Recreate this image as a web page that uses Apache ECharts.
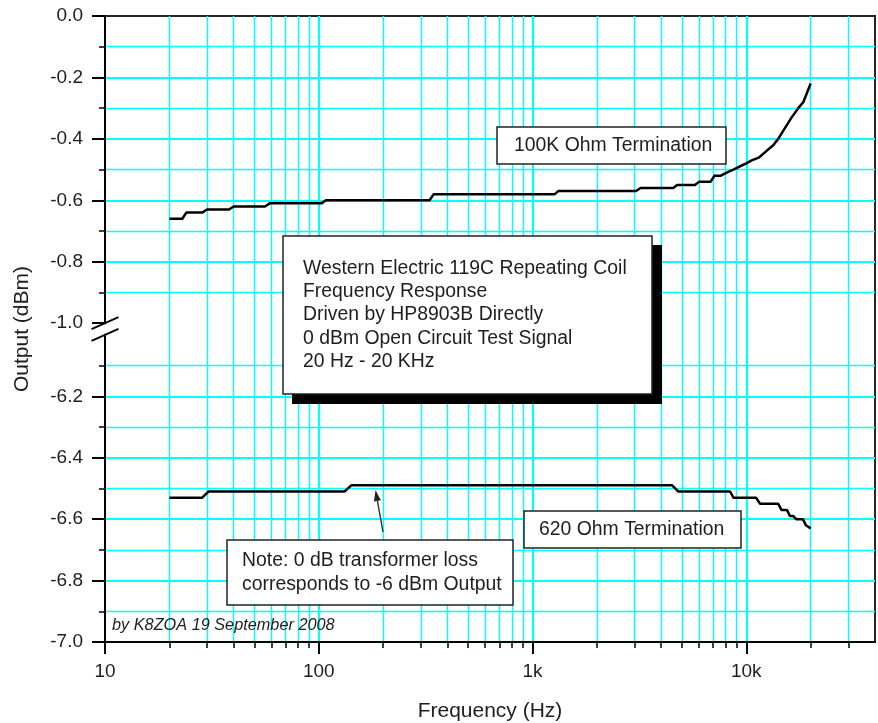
<!DOCTYPE html>
<html>
<head>
<meta charset="utf-8">
<script src="https://cdn.jsdelivr.net/npm/echarts@6/dist/echarts.min.js"></script>
<style>
  html, body { margin: 0; padding: 0; background: #fff; }
  #chart { width: 878px; height: 723px; }
</style>
</head>
<body>
<div id="chart"></div>
<script>
// Western Electric 119C repeating coil, measured output vs frequency
const freq100k = [20, 23, 24, 28.5, 30, 38, 40, 56, 59, 103, 108, 330, 345, 1270, 1320, 3050, 3200, 4550, 4750,
  5750, 6000, 6800, 7100, 7600, 8100, 8700, 9300, 10000, 10600, 11500, 12400, 13400, 14100, 15000, 16300, 17500, 18500, 20000];
const out100k = [-0.66, -0.66, -0.64, -0.64, -0.63, -0.63, -0.62, -0.62, -0.61, -0.61, -0.60, -0.60, -0.58, -0.58, -0.57, -0.57, -0.56, -0.56, -0.55,
  -0.55, -0.54, -0.54, -0.52, -0.52, -0.51, -0.50, -0.49, -0.48, -0.47, -0.46, -0.44, -0.42, -0.40, -0.37, -0.33, -0.30, -0.28, -0.22];

const freq620 = [20, 28.5, 30.5, 132, 142, 4500, 4800, 8400, 8700, 11100, 11600, 14100, 14600, 15500, 16000, 16600, 17100, 18400, 19000, 20000];
const out620 = [-6.53, -6.53, -6.51, -6.51, -6.49, -6.49, -6.51, -6.51, -6.53, -6.53, -6.55, -6.55, -6.57, -6.57, -6.59, -6.59, -6.60, -6.60, -6.62, -6.63];

// axis ticks
const xMajorTicks = [10, 100, 1000, 10000];
const xMajorLabels = ['10', '100', '1k', '10k'];
const xMinorTicks = [20, 30, 40, 50, 60, 70, 80, 90, 200, 300, 400, 500, 600, 700, 800, 900,
  2000, 3000, 4000, 5000, 6000, 7000, 8000, 9000, 20000, 30000];
const yMajorTicks = [0, -0.2, -0.4, -0.6, -0.8, -1.0, -6.2, -6.4, -6.6, -6.8, -7.0];
const yTickLabels = ['0.0', '-0.2', '-0.4', '-0.6', '-0.8', '-1.0', '-6.2', '-6.4', '-6.6', '-6.8', '-7.0'];
const yMinorTicks = [-0.1, -0.3, -0.5, -0.7, -0.9, -6.1, -6.3, -6.5, -6.7, -6.9];

// Broken value axis: upper band 0 … -1.0, lower band -6.0 … -7.0, small gap between them
const BREAK_TOP = -1.0, BREAK_BOTTOM = -6.0, BREAK_GAP = 0.038;
function toAxis(v) { return v >= BREAK_TOP ? v : v - BREAK_BOTTOM + BREAK_TOP - BREAK_GAP; }

const FONT = '"Liberation Sans", Arial, sans-serif';
const GRID_CYAN = '#00ffff';
const TEXT = '#1e1e1e';

const yMajorAxis = yMajorTicks.map(toAxis);
const yGridMajor = yMajorTicks.filter(v => v !== 0 && v !== BREAK_TOP && v !== -7.0).map(toAxis);
const yMinorAxis = yMinorTicks.map(toAxis);

function yLabel(val) {
  for (let i = 0; i < yMajorAxis.length; i++) {
    if (Math.abs(yMajorAxis[i] - val) < 1e-6) return yTickLabels[i];
  }
  return '';
}
function xLabel(val) {
  for (let i = 0; i < xMajorTicks.length; i++) {
    if (Math.abs(Math.log10(val) - Math.log10(xMajorTicks[i])) < 1e-6) return xMajorLabels[i];
  }
  return '';
}

const chart = echarts.init(document.getElementById('chart'), null, { renderer: 'canvas' });

const logBase = { type: 'log', logBase: 10, min: 10, max: 40000, gridIndex: 0, position: 'bottom' };
const valBase = { type: 'value', min: toAxis(-7.0), max: 0, gridIndex: 0, position: 'left' };

chart.setOption({
  animation: false,
  backgroundColor: '#fff',
  textStyle: { fontFamily: FONT },
  grid: {
    left: 105, right: 3, top: 16, bottom: 81,
    containLabel: false, outerBoundsMode: 'none',
    show: true, borderColor: '#262626', borderWidth: 2, backgroundColor: 'transparent'
  },
  xAxis: [
    Object.assign({}, logBase, {
      axisLine: { show: true, onZero: false, lineStyle: { color: '#000', width: 2 } },
      axisTick: { show: true, inside: false, length: 12, customValues: xMajorTicks, lineStyle: { color: '#000', width: 2 } },
      axisLabel: { show: true, customValues: xMajorTicks, formatter: xLabel, fontSize: 19, color: TEXT, margin: 20, fontFamily: FONT },
      splitLine: { show: false }, minorTick: { show: false }, minorSplitLine: { show: false },
      name: 'Frequency (Hz)', nameLocation: 'middle', nameGap: 59,
      nameTextStyle: { fontSize: 21, color: TEXT, fontFamily: FONT }
    }),
    Object.assign({}, logBase, {
      axisLine: { show: false, onZero: false },
      axisTick: { show: false, customValues: [100, 1000, 10000] },
      axisLabel: { show: false },
      splitLine: { show: true, lineStyle: { color: GRID_CYAN, width: 2.2 } }
    }),
    Object.assign({}, logBase, {
      axisLine: { show: false, onZero: false },
      axisTick: { show: true, inside: false, length: 6, customValues: xMinorTicks, lineStyle: { color: '#000', width: 1.5 } },
      axisLabel: { show: false },
      splitLine: { show: true, lineStyle: { color: GRID_CYAN, width: 1.4 } }
    })
  ],
  yAxis: [
    Object.assign({}, valBase, {
      axisLine: { show: true, onZero: false, lineStyle: { color: '#000', width: 2 } },
      axisTick: { show: true, inside: false, length: 13, customValues: yMajorAxis, lineStyle: { color: '#000', width: 2 } },
      axisLabel: { show: true, customValues: yMajorAxis, formatter: yLabel, fontSize: 19, color: TEXT, margin: 22, fontFamily: FONT },
      splitLine: { show: false },
      name: 'Output (dBm)', nameLocation: 'middle', nameRotate: 90, nameGap: 72,
      nameTextStyle: { fontSize: 21, color: TEXT, fontFamily: FONT }
    }),
    Object.assign({}, valBase, {
      axisLine: { show: false, onZero: false },
      axisTick: { show: false, customValues: yGridMajor },
      axisLabel: { show: false },
      splitLine: { show: true, lineStyle: { color: GRID_CYAN, width: 2.2 } }
    }),
    Object.assign({}, valBase, {
      axisLine: { show: false, onZero: false },
      axisTick: { show: true, inside: false, length: 6, customValues: yMinorAxis, lineStyle: { color: '#000', width: 1.5 } },
      axisLabel: { show: false },
      splitLine: { show: true, lineStyle: { color: GRID_CYAN, width: 1.4 } }
    })
  ],
  series: [
    {
      name: '100K Ohm Termination', type: 'line', xAxisIndex: 0, yAxisIndex: 0,
      data: freq100k.map((f, i) => [f, toAxis(out100k[i])]),
      showSymbol: false, symbol: 'none', z: 5,
      lineStyle: { color: '#000', width: 2.5 }
    },
    {
      name: '620 Ohm Termination', type: 'line', xAxisIndex: 0, yAxisIndex: 0,
      data: freq620.map((f, i) => [f, toAxis(out620[i])]),
      showSymbol: false, symbol: 'none', z: 5,
      lineStyle: { color: '#000', width: 2.5 }
    }
  ]
});

// Annotations: labelled boxes, note arrow, credit and the axis-break mark
function box(x, y, w, h) {
  return { type: 'rect', z: 50, shape: { x: x, y: y, width: w, height: h },
    style: { fill: '#fff', stroke: '#222', lineWidth: 1.5 } };
}
function label(x, y, text, opts) {
  return { type: 'text', z: 51, x: x, y: y,
    style: Object.assign({ text: text, font: '19.4px ' + FONT, fill: TEXT, verticalAlign: 'middle' }, opts || {}) };
}

const tip = [375.5, 490], tail = [383, 532];
const dx = tip[0] - tail[0], dy = tip[1] - tail[1], len = Math.hypot(dx, dy);
const ux = dx / len, uy = dy / len, headLen = 11, headHalf = 3.5;
const bx = tip[0] - ux * headLen, by = tip[1] - uy * headLen;

const yA = chart.convertToPixel({ yAxisIndex: 0 }, toAxis(BREAK_TOP));
const yB = chart.convertToPixel({ yAxisIndex: 0 }, toAxis(BREAK_BOTTOM));
const xA = chart.convertToPixel({ xAxisIndex: 0 }, 10);

const elements = [
  // 100K label
  box(497, 127, 229, 37),
  label(514, 145.5, '100K Ohm Termination'),
  // title block with drop shadow
  { type: 'rect', z: 49, shape: { x: 292, y: 245, width: 370, height: 159 }, style: { fill: '#000' } },
  box(283, 236, 369, 158),
  label(303, 256.5, 'Western Electric 119C Repeating Coil\nFrequency Response\nDriven by HP8903B Directly\n0 dBm Open Circuit Test Signal\n20 Hz - 20 KHz',
    { verticalAlign: 'top', lineHeight: 23.35 }),
  // 620 label
  box(524, 511, 217, 37),
  label(539, 529.5, '620 Ohm Termination'),
  // note
  box(227, 540, 286, 65),
  label(242, 561, 'Note: 0 dB transformer loss'),
  label(242, 585, 'corresponds to -6 dBm Output'),
  { type: 'line', z: 51, shape: { x1: tail[0], y1: tail[1], x2: bx, y2: by }, style: { stroke: '#222', lineWidth: 1.3 } },
  { type: 'polygon', z: 51, shape: { points: [tip, [bx - uy * headHalf, by + ux * headHalf], [bx + uy * headHalf, by - ux * headHalf]] },
    style: { fill: '#222' } },
  // credit
  label(112, 625, 'by K8ZOA 19 September 2008', { font: 'italic 16.3px ' + FONT }),
  // axis break on the left spine
  { type: 'rect', z: 52, shape: { x: xA - 3, y: yA + 1, width: 6, height: yB - yA - 2 }, style: { fill: '#fff' } },
  { type: 'line', z: 53, shape: { x1: xA - 13.5, y1: yA + 6, x2: xA + 13.5, y2: yA - 6 }, style: { stroke: '#000', lineWidth: 2 } },
  { type: 'line', z: 53, shape: { x1: xA - 13.5, y1: yB + 6, x2: xA + 13.5, y2: yB - 6 }, style: { stroke: '#000', lineWidth: 2 } }
];

chart.setOption({ graphic: [{ elements: elements }] });
</script>
</body>
</html>
